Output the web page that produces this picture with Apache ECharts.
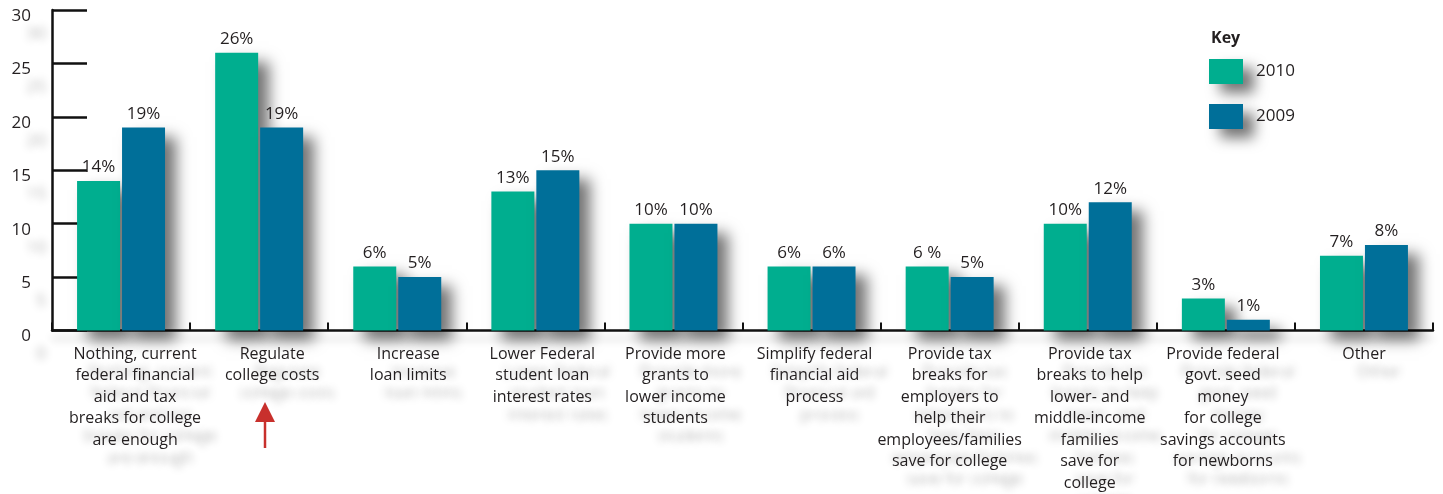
<!DOCTYPE html>
<html><head><meta charset="utf-8">
<script src="https://cdn.jsdelivr.net/npm/echarts@6/dist/echarts.min.js"></script>
<style>html,body{margin:0;padding:0;background:#fff}#c{width:1443px;height:494px}</style>
</head><body><div id="c"></div>
<script>
const categories = [
  "Nothing, current\nfederal financial\naid and tax\nbreaks for college\nare enough",
  "Regulate\ncollege costs",
  "Increase\nloan limits",
  "Lower Federal\nstudent loan\ninterest rates",
  "Provide more\ngrants to\nlower income\nstudents",
  "Simplify federal\nfinancial aid\nprocess",
  "Provide tax\nbreaks for\nemployers to\nhelp their\nemployees/families\nsave for college",
  "Provide tax\nbreaks to help\nlower- and\nmiddle-income\nfamilies\nsave for\ncollege",
  "Provide federal\ngovt. seed\nmoney\nfor college\nsavings accounts\nfor newborns",
  "Other"
];
const values2010 = [14, 26, 6, 13, 10, 6, 6, 10, 3, 7];
const values2009 = [19, 19, 5, 15, 10, 6, 5, 12, 1, 8];
const labels2010 = ["14%", "26%", "6%", "13%", "10%", "6%", "6 %", "10%", "3%", "7%"];
const labels2009 = ["19%", "19%", "5%", "15%", "10%", "6%", "5%", "12%", "1%", "8%"];
const yTicks = [0, 5, 10, 15, 20, 25, 30];

const FONT = "'Open Sans', 'Noto Sans', sans-serif";
const TXT = "#231f20";
const shadow = {shadowBlur: 14, shadowOffsetX: 11, shadowOffsetY: 9, shadowColor: "rgba(0,0,0,0.55)"};
const ghost = {textShadowColor: "rgba(0,0,0,0.33)", textShadowBlur: 9, textShadowOffsetX: 15, textShadowOffsetY: 18};
// horizontal nudges (px) of the category labels as drawn in the original
const labelShift = [14, 13, 11, 7, 2, 3, 0, 2, -3, 0];

const chart = echarts.init(document.getElementById('c'));
function mkSeries(name, vals, labs, color) {
  return {
    name: name, type: 'bar', barWidth: 43, barGap: '4.6%',
    data: vals,
    itemStyle: Object.assign({color: color}, shadow),
    label: {show: true, position: 'top', distance: 5, fontFamily: FONT, fontSize: 17, color: TXT,
      formatter: p => labs[p.dataIndex]},
    emphasis: {disabled: true}
  };
}
const catData = categories.map((c, i) => {
  const s = labelShift[i];
  return {value: c, textStyle: {padding: s >= 0 ? [0, 0, 0, 2 * s] : [0, -2 * s, 0, 0]}};
});
chart.setOption({
  animation: false,
  grid: {left: 52, right: 10, top: 10, bottom: 163, containLabel: false},
  legend: {
    orient: 'vertical', left: 1209, top: 59, padding: 0, itemWidth: 34, itemHeight: 25, itemGap: 20,
    icon: 'rect', data: ['2010', '2009'],
    textStyle: {fontFamily: FONT, fontSize: 17, color: TXT, padding: [0, 0, 0, 8]},
    itemStyle: shadow
  },
  graphic: [
    {type: 'text', left: 1211, top: 30, style: {text: 'Key', fontFamily: FONT, fontSize: 16, fontWeight: 'bold', fill: TXT}},
    {type: 'line', shape: {x1: 265, y1: 448, x2: 265, y2: 415}, style: {stroke: '#c8302c', lineWidth: 2.5}},
    {type: 'polygon', shape: {points: [[265, 402], [255, 422], [275, 422]]}, style: {fill: '#c8302c'}}
  ],
  xAxis: {
    type: 'category', data: catData,
    axisLine: {lineStyle: {color: '#111', width: 2.5, shadowBlur: 8, shadowOffsetY: 8, shadowColor: 'rgba(0,0,0,0.2)'}},
    axisTick: {show: true, inside: true, length: 8, lineStyle: {color: '#111', width: 2}},
    axisLabel: Object.assign({interval: 0, margin: 13, fontFamily: FONT, fontSize: 16, lineHeight: 21.5, color: TXT}, ghost)
  },
  yAxis: {
    type: 'value', min: 0, max: 30, interval: 5,
    splitLine: {show: false},
    axisLine: {show: true, lineStyle: {color: '#111', width: 2.5}},
    axisTick: {show: true, inside: true, length: 35, lineStyle: {color: '#111', width: 2.5}},
    axisLabel: {margin: 21,
      formatter: v => yTicks.includes(v) ? '{t|' + v + '}' : '',
      rich: {t: Object.assign({fontFamily: FONT, fontSize: 17, color: TXT, padding: [12, 0, 0, 0]}, ghost)}}
  },
  series: [
    mkSeries('2010', values2010, labels2010, '#00ae8f'),
    mkSeries('2009', values2009, labels2009, '#006f99')
  ]
});
</script></body></html>
